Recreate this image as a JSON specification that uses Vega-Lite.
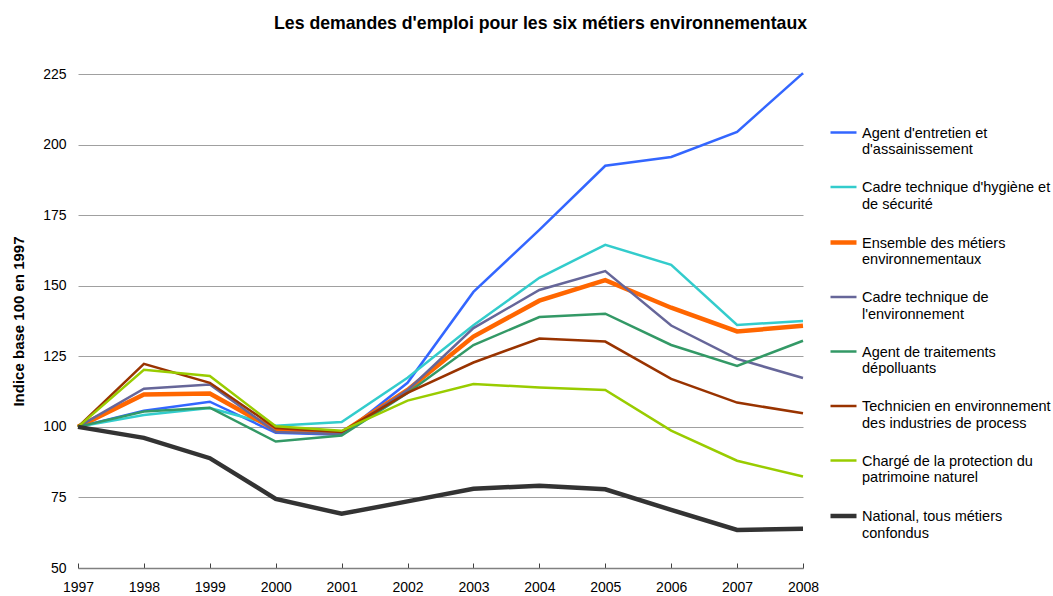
{
  "$schema": "https://vega.github.io/schema/vega-lite/v6.json",
  "width": 725,
  "height": 494,
  "autosize": {"type": "none"},
  "padding": {"left": 78, "top": 74, "right": 250, "bottom": 28},
  "background": "white",
  "title": {
    "text": "Les demandes d'emploi pour les six métiers environnementaux",
    "font": "Liberation Sans",
    "fontSize": 17.7,
    "fontWeight": "bold",
    "color": "black",
    "anchor": "middle",
    "dx": 100,
    "offset": 34
  },
  "config": {
    "view": {"stroke": null},
    "font": "Liberation Sans",
    "axis": {"labelFont": "Liberation Sans", "labelFontSize": 14, "labelColor": "black", "titleFont": "Liberation Sans"}
  },
  "data": {
    "values": [
      {"series": "Agent d'entretien et d'assainissement", "year": 1997, "value": 100},
      {"series": "Agent d'entretien et d'assainissement", "year": 1998, "value": 105.7},
      {"series": "Agent d'entretien et d'assainissement", "year": 1999, "value": 108.9},
      {"series": "Agent d'entretien et d'assainissement", "year": 2000, "value": 97.9},
      {"series": "Agent d'entretien et d'assainissement", "year": 2001, "value": 97.2},
      {"series": "Agent d'entretien et d'assainissement", "year": 2002, "value": 115.6},
      {"series": "Agent d'entretien et d'assainissement", "year": 2003, "value": 147.8},
      {"series": "Agent d'entretien et d'assainissement", "year": 2004, "value": 169.8},
      {"series": "Agent d'entretien et d'assainissement", "year": 2005, "value": 192.5},
      {"series": "Agent d'entretien et d'assainissement", "year": 2006, "value": 195.6},
      {"series": "Agent d'entretien et d'assainissement", "year": 2007, "value": 204.5},
      {"series": "Agent d'entretien et d'assainissement", "year": 2008, "value": 225.3},
      {"series": "Cadre technique d'hygiène et de sécurité", "year": 1997, "value": 100},
      {"series": "Cadre technique d'hygiène et de sécurité", "year": 1998, "value": 104.2},
      {"series": "Cadre technique d'hygiène et de sécurité", "year": 1999, "value": 106.7},
      {"series": "Cadre technique d'hygiène et de sécurité", "year": 2000, "value": 100.4},
      {"series": "Cadre technique d'hygiène et de sécurité", "year": 2001, "value": 101.7},
      {"series": "Cadre technique d'hygiène et de sécurité", "year": 2002, "value": 117.4},
      {"series": "Cadre technique d'hygiène et de sécurité", "year": 2003, "value": 136},
      {"series": "Cadre technique d'hygiène et de sécurité", "year": 2004, "value": 152.8},
      {"series": "Cadre technique d'hygiène et de sécurité", "year": 2005, "value": 164.5},
      {"series": "Cadre technique d'hygiène et de sécurité", "year": 2006, "value": 157.4},
      {"series": "Cadre technique d'hygiène et de sécurité", "year": 2007, "value": 136.1},
      {"series": "Cadre technique d'hygiène et de sécurité", "year": 2008, "value": 137.5},
      {"series": "Ensemble des métiers environnementaux", "year": 1997, "value": 100},
      {"series": "Ensemble des métiers environnementaux", "year": 1998, "value": 111.5},
      {"series": "Ensemble des métiers environnementaux", "year": 1999, "value": 111.8},
      {"series": "Ensemble des métiers environnementaux", "year": 2000, "value": 98.9},
      {"series": "Ensemble des métiers environnementaux", "year": 2001, "value": 97.9},
      {"series": "Ensemble des métiers environnementaux", "year": 2002, "value": 113.1},
      {"series": "Ensemble des métiers environnementaux", "year": 2003, "value": 132},
      {"series": "Ensemble des métiers environnementaux", "year": 2004, "value": 144.7},
      {"series": "Ensemble des métiers environnementaux", "year": 2005, "value": 152},
      {"series": "Ensemble des métiers environnementaux", "year": 2006, "value": 142.2},
      {"series": "Ensemble des métiers environnementaux", "year": 2007, "value": 133.8},
      {"series": "Ensemble des métiers environnementaux", "year": 2008, "value": 135.8},
      {"series": "Cadre technique de l'environnement", "year": 1997, "value": 100},
      {"series": "Cadre technique de l'environnement", "year": 1998, "value": 113.5},
      {"series": "Cadre technique de l'environnement", "year": 1999, "value": 115},
      {"series": "Cadre technique de l'environnement", "year": 2000, "value": 98.2},
      {"series": "Cadre technique de l'environnement", "year": 2001, "value": 97.5},
      {"series": "Cadre technique de l'environnement", "year": 2002, "value": 113},
      {"series": "Cadre technique de l'environnement", "year": 2003, "value": 135},
      {"series": "Cadre technique de l'environnement", "year": 2004, "value": 148.5},
      {"series": "Cadre technique de l'environnement", "year": 2005, "value": 155.2},
      {"series": "Cadre technique de l'environnement", "year": 2006, "value": 135.9},
      {"series": "Cadre technique de l'environnement", "year": 2007, "value": 124.1},
      {"series": "Cadre technique de l'environnement", "year": 2008, "value": 117.3},
      {"series": "Agent de traitements dépolluants", "year": 1997, "value": 100},
      {"series": "Agent de traitements dépolluants", "year": 1998, "value": 105.4},
      {"series": "Agent de traitements dépolluants", "year": 1999, "value": 106.8},
      {"series": "Agent de traitements dépolluants", "year": 2000, "value": 94.8},
      {"series": "Agent de traitements dépolluants", "year": 2001, "value": 96.9},
      {"series": "Agent de traitements dépolluants", "year": 2002, "value": 112},
      {"series": "Agent de traitements dépolluants", "year": 2003, "value": 129},
      {"series": "Agent de traitements dépolluants", "year": 2004, "value": 138.9},
      {"series": "Agent de traitements dépolluants", "year": 2005, "value": 140.1},
      {"series": "Agent de traitements dépolluants", "year": 2006, "value": 129},
      {"series": "Agent de traitements dépolluants", "year": 2007, "value": 121.6},
      {"series": "Agent de traitements dépolluants", "year": 2008, "value": 130.5},
      {"series": "Technicien en environnement des industries de process", "year": 1997, "value": 100},
      {"series": "Technicien en environnement des industries de process", "year": 1998, "value": 122.3},
      {"series": "Technicien en environnement des industries de process", "year": 1999, "value": 115.6},
      {"series": "Technicien en environnement des industries de process", "year": 2000, "value": 99.6},
      {"series": "Technicien en environnement des industries de process", "year": 2001, "value": 98.2},
      {"series": "Technicien en environnement des industries de process", "year": 2002, "value": 112},
      {"series": "Technicien en environnement des industries de process", "year": 2003, "value": 122.8},
      {"series": "Technicien en environnement des industries de process", "year": 2004, "value": 131.3},
      {"series": "Technicien en environnement des industries de process", "year": 2005, "value": 130.2},
      {"series": "Technicien en environnement des industries de process", "year": 2006, "value": 117},
      {"series": "Technicien en environnement des industries de process", "year": 2007, "value": 108.6},
      {"series": "Technicien en environnement des industries de process", "year": 2008, "value": 104.8},
      {"series": "Chargé de la protection du patrimoine naturel", "year": 1997, "value": 100},
      {"series": "Chargé de la protection du patrimoine naturel", "year": 1998, "value": 120.2},
      {"series": "Chargé de la protection du patrimoine naturel", "year": 1999, "value": 118},
      {"series": "Chargé de la protection du patrimoine naturel", "year": 2000, "value": 100.2},
      {"series": "Chargé de la protection du patrimoine naturel", "year": 2001, "value": 98.6},
      {"series": "Chargé de la protection du patrimoine naturel", "year": 2002, "value": 109.3},
      {"series": "Chargé de la protection du patrimoine naturel", "year": 2003, "value": 115.2},
      {"series": "Chargé de la protection du patrimoine naturel", "year": 2004, "value": 113.9},
      {"series": "Chargé de la protection du patrimoine naturel", "year": 2005, "value": 113.1},
      {"series": "Chargé de la protection du patrimoine naturel", "year": 2006, "value": 98.7},
      {"series": "Chargé de la protection du patrimoine naturel", "year": 2007, "value": 88},
      {"series": "Chargé de la protection du patrimoine naturel", "year": 2008, "value": 82.4},
      {"series": "National, tous métiers confondus", "year": 1997, "value": 100},
      {"series": "National, tous métiers confondus", "year": 1998, "value": 96.1},
      {"series": "National, tous métiers confondus", "year": 1999, "value": 88.9},
      {"series": "National, tous métiers confondus", "year": 2000, "value": 74.5},
      {"series": "National, tous métiers confondus", "year": 2001, "value": 69.2},
      {"series": "National, tous métiers confondus", "year": 2002, "value": 73.6},
      {"series": "National, tous métiers confondus", "year": 2003, "value": 78.1},
      {"series": "National, tous métiers confondus", "year": 2004, "value": 79.1},
      {"series": "National, tous métiers confondus", "year": 2005, "value": 77.9},
      {"series": "National, tous métiers confondus", "year": 2006, "value": 70.6},
      {"series": "National, tous métiers confondus", "year": 2007, "value": 63.5},
      {"series": "National, tous métiers confondus", "year": 2008, "value": 63.9}
    ]
  },
  "mark": {"type": "line", "strokeJoin": "miter", "strokeCap": "butt"},
  "encoding": {
    "x": {
      "field": "year",
      "type": "quantitative",
      "scale": {"domain": [1997, 2008], "nice": false, "zero": false},
      "axis": {
        "title": null,
        "values": [1997, 1998, 1999, 2000, 2001, 2002, 2003, 2004, 2005, 2006, 2007, 2008],
        "format": "d",
        "grid": false,
        "domainColor": "#808080",
        "domainWidth": 1.5,
        "tickColor": "#404040",
        "tickSize": -5,
        "tickWidth": 1,
        "labelPadding": 17,
        "labelFlush": false
      }
    },
    "y": {
      "field": "value",
      "type": "quantitative",
      "scale": {"domain": [50, 225], "nice": false, "zero": false},
      "axis": {
        "title": "Indice base 100 en 1997",
        "titleFontSize": 15,
        "titleFontWeight": "bold",
        "titleColor": "black",
        "titleX": -60,
        "titleY": 247,
        "titleAngle": -90,
        "titleAlign": "center",
        "titleBaseline": "middle",
        "values": [50, 75, 100, 125, 150, 175, 200, 225],
        "domain": false,
        "ticks": false,
        "labelPadding": 12,
        "gridColor": "#a0a0a0",
        "gridWidth": 1
      }
    },
    "color": {
      "field": "series",
      "type": "nominal",
      "sort": null,
      "scale": {
        "domain": [
          "Agent d'entretien et d'assainissement",
          "Cadre technique d'hygiène et de sécurité",
          "Ensemble des métiers environnementaux",
          "Cadre technique de l'environnement",
          "Agent de traitements dépolluants",
          "Technicien en environnement des industries de process",
          "Chargé de la protection du patrimoine naturel",
          "National, tous métiers confondus"
        ],
        "range": ["#3366FF", "#33CCCC", "#FF6600", "#666699", "#339966", "#993300", "#99CC00", "#333333"]
      },
      "legend": {
        "title": null,
        "orient": "none",
        "legendX": 750,
        "legendY": 44,
        "symbolType": "stroke",
        "symbolSize": 676,
        "labelFont": "Liberation Sans",
        "labelFontSize": 14.5,
        "labelColor": "black",
        "labelLimit": 300,
        "labelOffset": 3,
        "labelBaseline": "top",
        "rowPadding": 15.5,
        "encode": {"labels": {"update": {"dy": {"value": -6}}}},
        "labelExpr": "datum.label == \"Agent d'entretien et d'assainissement\" ? [\"Agent d'entretien et\", \"d'assainissement\"] : datum.label == \"Cadre technique d'hygiène et de sécurité\" ? [\"Cadre technique d'hygiène et\", \"de sécurité\"] : datum.label == \"Ensemble des métiers environnementaux\" ? [\"Ensemble des métiers\", \"environnementaux\"] : datum.label == \"Cadre technique de l'environnement\" ? [\"Cadre technique de\", \"l'environnement\"] : datum.label == \"Agent de traitements dépolluants\" ? [\"Agent de traitements\", \"dépolluants\"] : datum.label == \"Technicien en environnement des industries de process\" ? [\"Technicien en environnement\", \"des industries de process\"] : datum.label == \"Chargé de la protection du patrimoine naturel\" ? [\"Chargé de la protection du\", \"patrimoine naturel\"] : [\"National, tous métiers\", \"confondus\"]"
      }
    },
    "strokeWidth": {
      "field": "series",
      "type": "nominal",
      "sort": null,
      "scale": {
        "type": "ordinal",
        "domain": [
          "Agent d'entretien et d'assainissement",
          "Cadre technique d'hygiène et de sécurité",
          "Ensemble des métiers environnementaux",
          "Cadre technique de l'environnement",
          "Agent de traitements dépolluants",
          "Technicien en environnement des industries de process",
          "Chargé de la protection du patrimoine naturel",
          "National, tous métiers confondus"
        ],
        "range": [2.5, 2.5, 4.5, 2.5, 2.5, 2.5, 2.5, 4.5]
      }
    }
  }
}
